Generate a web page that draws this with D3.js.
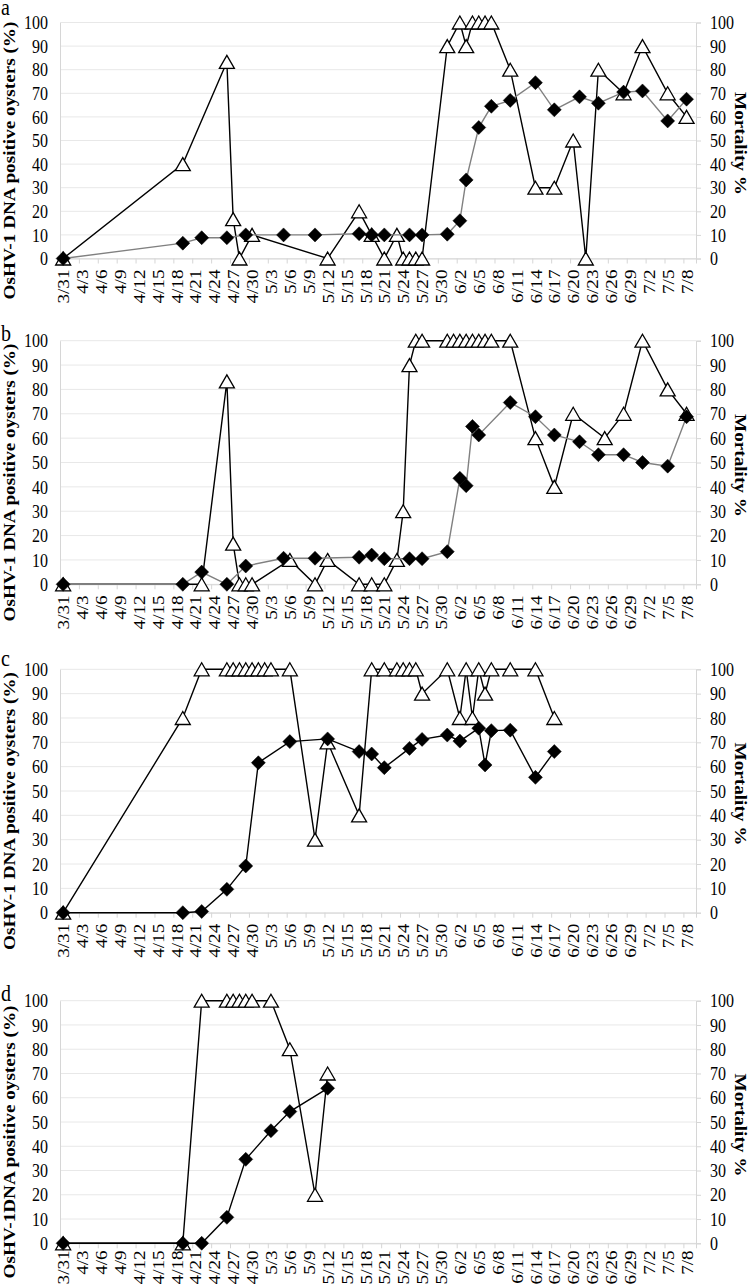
<!DOCTYPE html>
<html><head><meta charset="utf-8">
<script src="https://cdn.jsdelivr.net/npm/d3@7"></script>
<style>body{margin:0;background:#fff}</style>
</head><body>
<svg id="c" width="750" height="1285"></svg>
<script>
// ---------- data ----------
const xTickLabels = ["3/31","4/3","4/6","4/9","4/12","4/15","4/18","4/21","4/24","4/27","4/30","5/3","5/6","5/9","5/12","5/15","5/18","5/21","5/24","5/27","5/30","6/2","6/5","6/8","6/11","6/14","6/17","6/20","6/23","6/26","6/29","7/2","7/5","7/8"];
const yTicks = [0,10,20,30,40,50,60,70,80,90,100];

// panel a
const aPosDates = ["3/31","4/19","4/26","4/27","4/28","4/30","5/12","5/17","5/19","5/21","5/23","5/24","5/25","5/26","5/27","5/31","6/2","6/3","6/4","6/5","6/6","6/7","6/10","6/14","6/17","6/20","6/22","6/24","6/28","7/1","7/5","7/8"];
const aPosValues = [0,40,83.3,16.7,0,10,0,20,10,0,10,0,0,0,0,90,100,90,100,100,100,100,80,30,30,50,0,80,70,90,70,60];
const aMortDates = ["3/31","4/19","4/22","4/26","4/29","5/5","5/10","5/17","5/19","5/21","5/25","5/27","5/31","6/2","6/3","6/5","6/7","6/10","6/14","6/17","6/21","6/24","6/28","7/1","7/5","7/8"];
const aMortValues = [0,6.5,8.8,8.8,10,10,10,10.5,10,10,10,10,10.3,16,33.3,55.5,64.5,67,74.5,63,68.5,65.8,70.5,71,58.3,67.5];

// panel b
const bPosDates = ["3/31","4/22","4/26","4/27","4/28","4/29","4/30","5/6","5/10","5/12","5/17","5/19","5/21","5/23","5/24","5/25","5/26","5/27","5/31","6/1","6/2","6/3","6/4","6/5","6/6","6/7","6/10","6/14","6/17","6/20","6/25","6/28","7/1","7/5","7/8"];
const bPosValues = [0,0,83.3,16.7,0,0,0,10,0,10,0,0,0,10,30,90,100,100,100,100,100,100,100,100,100,100,100,60,40,70,60,70,100,80,70];
const bMortDates = ["3/31","4/19","4/22","4/26","4/29","5/5","5/10","5/17","5/19","5/21","5/25","5/27","5/31","6/2","6/3","6/4","6/5","6/10","6/14","6/17","6/21","6/24","6/28","7/1","7/5","7/8"];
const bMortValues = [0,0,5,0,7.5,10.7,10.7,11.1,12,10.5,10.5,10.5,13.4,43.5,40.5,64.8,61.3,74.6,68.8,61.3,58.5,53.2,53.2,50,48.5,68.8];

// panel c
const cPosDates = ["3/31","4/19","4/22","4/26","4/27","4/28","4/29","4/30","5/1","5/2","5/3","5/6","5/10","5/12","5/17","5/19","5/21","5/23","5/24","5/25","5/26","5/27","5/31","6/2","6/3","6/4","6/5","6/6","6/7","6/10","6/14","6/17"];
const cPosValues = [0,80,100,100,100,100,100,100,100,100,100,100,30,70,40,100,100,100,100,100,100,90,100,80,100,80,100,90,100,100,100,80];
const cMortDates = ["3/31","4/19","4/22","4/26","4/29","5/1","5/6","5/12","5/17","5/19","5/21","5/25","5/27","5/31","6/2","6/5","6/6","6/7","6/10","6/14","6/17"];
const cMortValues = [0,0,0.5,9.6,19.2,61.6,70.3,71.4,66.2,65.2,59.6,67.5,71.2,73,70.5,75.8,60.7,74.8,75,55.6,66.2];

// panel d
const dPosDates = ["3/31","4/19","4/22","4/26","4/27","4/28","4/29","4/30","5/3","5/6","5/10","5/12"];
const dPosValues = [0,0,100,100,100,100,100,100,100,80,20,70];
const dMortDates = ["3/31","4/19","4/22","4/26","4/29","5/3","5/6","5/12"];
const dMortValues = [0,0,0,10.7,34.6,46.4,54.3,63.9];

const leftTitles = ["OsHV-1 DNA positive oysters (%)","OsHV-1 DNA positive oysters (%)","OsHV-1 DNA positive oysters (%)","OsHV-1DNA positive oysters (%)"];
const rightTitle = "Mortality %";
const panelLetters = ["a","b","c","d"];

// ---------- helpers ----------
const start = Date.UTC(2012,2,31);
function dayIndex(s){ const [m,d]=s.split('/').map(Number); return d3.utcDay.count(new Date(start), new Date(Date.UTC(2012,m-1,d))); }
function zip(dates, vals){ return dates.map((d,i)=>({day:dayIndex(d), v:vals[i]})); }

const SY = 1.2;
const FONT = "'Liberation Serif','Times New Roman',serif";
const X0 = 60, X1 = 696;
const x = d3.scaleLinear().domain([-0.5, 100.5]).range([X0, X1]);

const layout = [
  {top:22.5, bottom:258.5, letterY:15, labelGap:11, mortColor:'#808080'},
  {top:340.7, bottom:584.3, letterY:341, labelGap:11, mortColor:'#808080'},
  {top:669.3, bottom:912.7, letterY:666, labelGap:11, mortColor:'#000'},
  {top:1000.7, bottom:1243.3, letterY:1001, labelGap:7, mortColor:'#000'}
];
const series = [
  [zip(aPosDates,aPosValues), zip(aMortDates,aMortValues)],
  [zip(bPosDates,bPosValues), zip(bMortDates,bMortValues)],
  [zip(cPosDates,cPosValues), zip(cMortDates,cMortValues)],
  [zip(dPosDates,dPosValues), zip(dMortDates,dMortValues)]
];

const svg = d3.select('#c');
const tri = 'M0,-6.5L7.5,6.5L-7.5,6.5Z';
const dia = 'M0,-7L7,0L0,7L-7,0Z';

layout.forEach((L, i) => {
  const g = svg.append('g');
  const y = d3.scaleLinear().domain([0,100]).range([L.bottom, L.top]);

  g.selectAll('line.grid').data(yTicks).join('line')
    .attr('x1', X0).attr('x2', X1)
    .attr('y1', d=>y(d)).attr('y2', d=>y(d))
    .attr('stroke', '#e8e8e8').attr('stroke-width', 1);

  const la = g.append('g').attr('transform', `translate(${X0},0)`)
    .call(d3.axisLeft(y).tickValues(yTicks).tickSize(0).tickPadding(12));
  const ra = g.append('g').attr('transform', `translate(${X1},0)`)
    .call(d3.axisRight(y).tickValues(yTicks).tickSize(5).tickPadding(9));
  const tickDays = xTickLabels.map(dayIndex);
  const ba = g.append('g').attr('transform', `translate(0,${L.bottom})`)
    .call(d3.axisBottom(x).tickValues(tickDays.map(d=>d-0.5)).tickSize(5).tickFormat(''));

  [la, ra, ba].forEach(a => {
    a.select('.domain').attr('stroke', '#d6d6d6');
    a.selectAll('.tick line').attr('stroke', '#d6d6d6');
    a.selectAll('text').attr('font-family', FONT).attr('font-size', 16).attr('fill', '#000')
      .attr('transform', `scale(1,${SY})`);
  });

  g.selectAll('text.xl').data(xTickLabels).join('text')
    .attr('class','xl')
    .attr('transform', d => `translate(${x(dayIndex(d))+0.5},${L.bottom+L.labelGap}) scale(1,${SY}) rotate(-90)`)
    .attr('text-anchor','end').attr('dy','0.35em')
    .attr('font-family', FONT).attr('font-size', 16)
    .text(d=>d);

  const cy = (L.top + L.bottom)/2;
  g.append('text')
    .attr('transform', `translate(9,${cy+20}) scale(1,${SY}) rotate(-90)`)
    .attr('text-anchor','middle').attr('dy','0.35em')
    .attr('font-family', FONT).attr('font-size', 16).attr('font-weight','bold')
    .text(leftTitles[i]);
  g.append('text')
    .attr('transform', `translate(741,${cy+3}) scale(1,${SY}) rotate(90)`)
    .attr('text-anchor','middle').attr('dy','0.35em')
    .attr('font-family', FONT).attr('font-size', 16).attr('font-weight','bold')
    .text(rightTitle);
  g.append('text')
    .attr('transform', `translate(1,${L.letterY}) scale(1,${SY})`)
    .attr('font-family', FONT).attr('font-size', 20)
    .text(panelLetters[i]);

  const line = d3.line().x(d=>x(d.day)).y(d=>y(d.v));
  const [pos, mort] = series[i];

  g.append('path').datum(pos).attr('d', line)
    .attr('fill','none').attr('stroke','#000').attr('stroke-width',1.4);
  g.selectAll('path.tri').data(pos).join('path').attr('class','tri')
    .attr('d', tri).attr('transform', d=>`translate(${x(d.day)},${y(d.v)})`)
    .attr('fill','#fff').attr('stroke','#000').attr('stroke-width',1.3);

  g.append('path').datum(mort).attr('d', line)
    .attr('fill','none').attr('stroke', L.mortColor).attr('stroke-width',1.4);
  g.selectAll('path.dia').data(mort).join('path').attr('class','dia')
    .attr('d', dia).attr('transform', d=>`translate(${x(d.day)},${y(d.v)})`)
    .attr('fill','#000').attr('stroke','#000').attr('stroke-width',0.5);
});
</script>
</body></html>
